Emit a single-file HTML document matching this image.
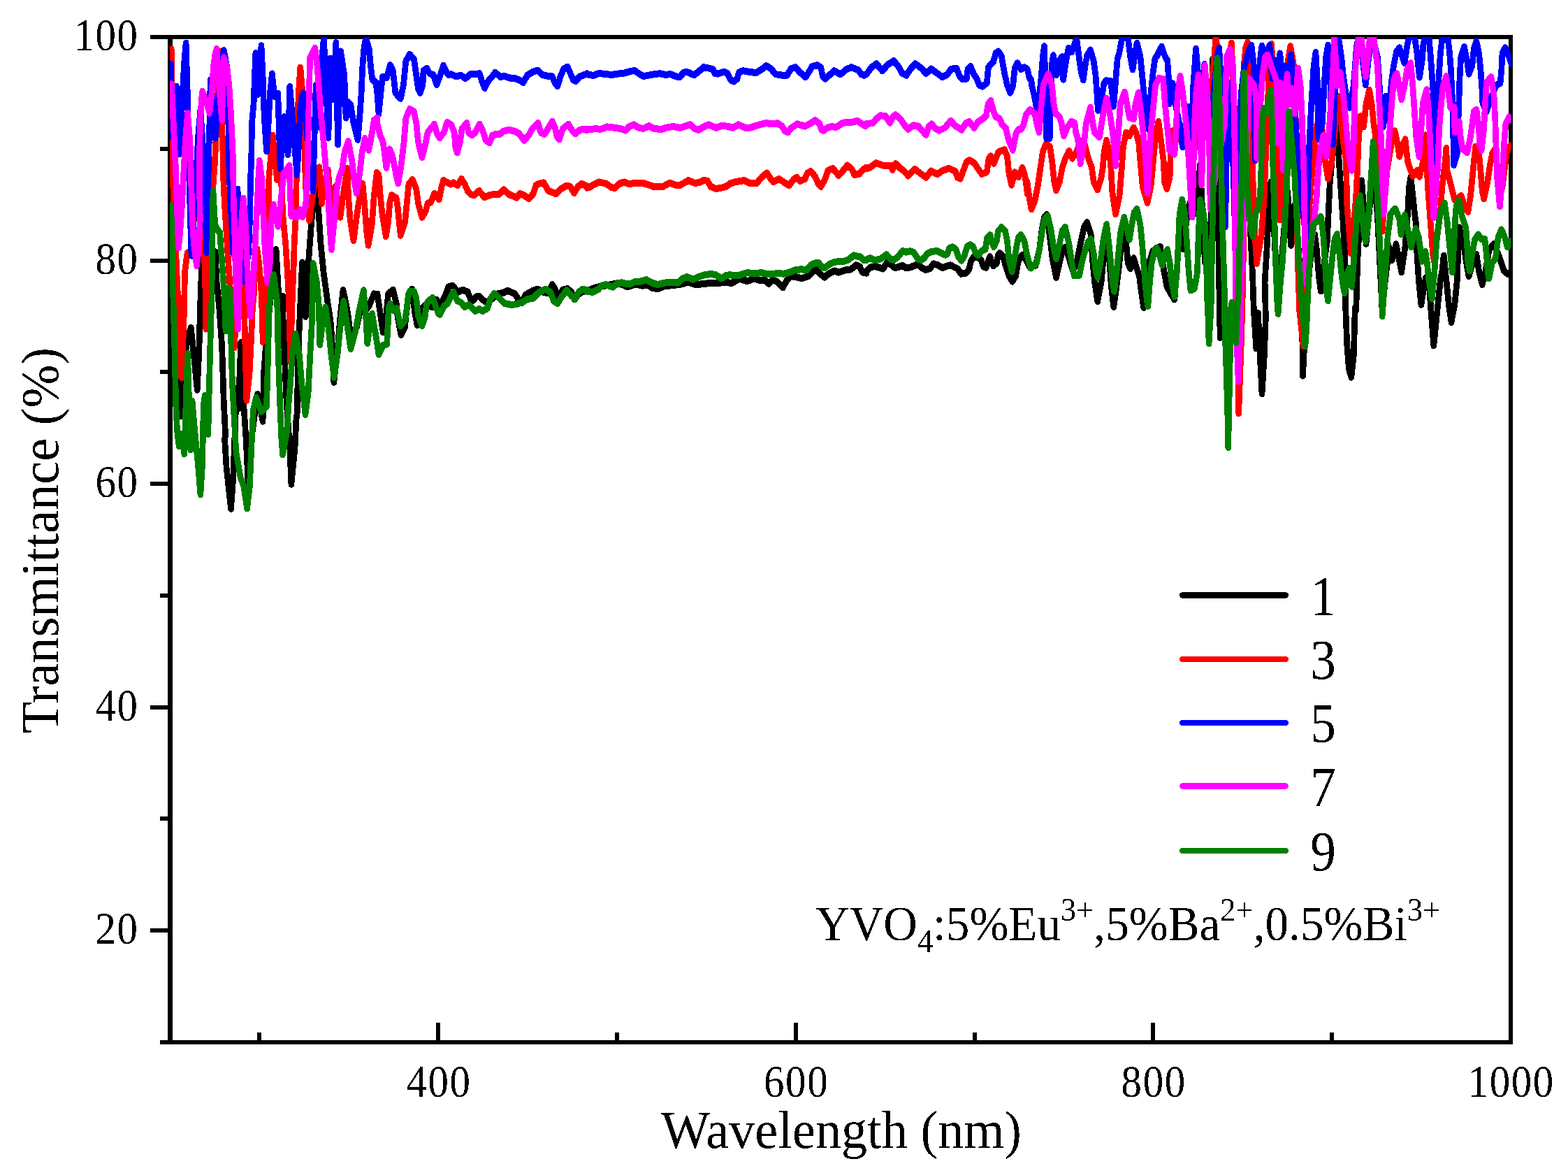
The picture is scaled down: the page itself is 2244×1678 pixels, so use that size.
<!DOCTYPE html>
<html lang="en">
<head>
<meta charset="utf-8">
<title>Transmittance spectra</title>
<style>
html,body{margin:0;padding:0;background:#fff;}
body{width:2244px;height:1678px;overflow:hidden;}
svg{display:block;}
text{font-family:"Liberation Serif","Times New Roman",serif;fill:#000;}
.ax{stroke:#000;stroke-width:6;fill:none;shape-rendering:crispEdges;}
.cv{fill:none;stroke-width:8.7;stroke-linejoin:round;stroke-linecap:round;shape-rendering:crispEdges;}
.lg{fill:none;stroke-width:8.6;stroke-linecap:round;shape-rendering:crispEdges;}
.tk{font-size:62px;}
.ti{font-size:74.3px;}
.lgt{font-size:77px;}
.an{font-size:67.2px;}
</style>
</head>
<body>
<svg width="2244" height="1678" viewBox="0 0 2244 1678">
<rect x="0" y="0" width="2244" height="1678" fill="#fff"/>
<g fill="#000" shape-rendering="crispEdges">
<rect x="240" y="50" width="1925" height="6"/>
<rect x="240" y="1488" width="1925" height="6"/>
<rect x="240" y="50" width="7" height="1444"/>
<rect x="2159" y="50" width="6" height="1444"/>
<rect x="215" y="50" width="25" height="6"/>
<rect x="229" y="210" width="11" height="6"/>
<rect x="215" y="370" width="25" height="6"/>
<rect x="229" y="529" width="11" height="6"/>
<rect x="215" y="689" width="25" height="6"/>
<rect x="229" y="849" width="11" height="6"/>
<rect x="215" y="1009" width="25" height="6"/>
<rect x="229" y="1168" width="11" height="6"/>
<rect x="215" y="1328" width="25" height="6"/>
<rect x="229" y="1488" width="11" height="6"/>
<rect x="368" y="1477" width="6" height="11"/>
<rect x="624" y="1463" width="6" height="25"/>
<rect x="880" y="1477" width="6" height="11"/>
<rect x="1136" y="1463" width="6" height="25"/>
<rect x="1392" y="1477" width="6" height="11"/>
<rect x="1647" y="1463" width="6" height="25"/>
<rect x="1903" y="1477" width="6" height="11"/>
</g>
<defs><clipPath id="c"><rect x="243" y="53" width="1919.6" height="1437"/></clipPath></defs>
<g clip-path="url(#c)"><g transform="scale(1 1.15)">
<polyline class="cv" stroke="#000000" points="244.8,291.5 252.2,418.1 255.6,477.3 258.4,517.7 263.1,465.4 267.2,424.0 273.3,407.6 277.4,441.8 282.2,484.9 284.9,435.8 286.5,382.6 288.3,338.8 291.0,291.5 294.4,315.2 299.9,350.7 303.9,327.0 308.0,313.4 310.1,350.7 313.7,382.6 317.6,429.9 320.3,500.9 322.7,542.3 321.6,546.1 324.1,581.6 330.5,632.9 333.9,593.4 335.0,563.9 337.3,512.7 338.2,483.2 341.4,508.0 343.0,465.4 344.8,425.9 348.6,500.9 352.2,548.2 355.0,599.3 359.7,546.1 368.6,490.3 376.1,524.0 377.4,465.4 381.5,418.1 388.3,362.5 395.1,310.4 398.5,362.5 400.5,380.2 404.6,368.4 405.3,404.4 407.3,441.8 410.1,500.9 414.8,557.9 416.9,602.3 422.0,557.9 423.9,522.4 425.3,512.7 426.4,453.6 428.4,406.3 432.5,326.5 435.2,374.3 437.3,393.8 441.4,327.0 445.4,279.7 449.5,244.2 452.9,227.6 456.3,267.8 459.0,303.3 463.1,338.8 468.6,374.3 472.9,398.0 474.7,418.1 477.8,475.5 483.5,429.9 486.9,394.4 491.0,360.8 495.8,380.2 498.5,394.4 502.6,424.0 510.7,406.3 516.2,382.6 523.0,386.2 528.4,380.2 535.2,365.5 540.0,367.2 540.0,365.6 544.1,389.2 548.2,413.1 552.2,395.1 554.3,377.4 555.6,365.6 562.4,360.6 567.2,377.4 569.3,395.1 574.0,416.7 579.5,407.0 581.5,389.2 584.9,365.6 589.7,359.7 593.7,389.2 597.1,404.6 601.9,395.1 605.3,382.1 610.1,378.3 618.9,382.1 625.0,372.7 628.4,382.1 632.5,376.6 638.0,365.6 642.0,356.7 647.5,355.3 652.9,360.8 655.6,363.2 662.4,360.6 669.3,363.2 673.3,371.5 677.4,373.6 681.5,369.1 685.6,368.5 692.4,373.9 696.5,376.2 704.6,371.5 712.8,365.3 719.6,364.4 726.4,361.4 733.2,364.2 736.6,365.3 741.4,371.5 746.8,376.8 752.2,366.8 755.0,365.3 763.1,361.4 769.9,359.7 776.7,363.2 783.5,364.6 786.9,359.7 790.3,354.1 794.4,359.7 797.1,371.5 805.3,360.8 812.1,359.1 817.6,363.2 822.3,372.4 828.4,365.6 833.9,362.6 840.0,361.8 840.0,362.5 847.2,359.3 854.5,357.3 863.5,355.7 876.2,353.8 884.3,352.3 890.6,354.1 897.9,356.7 906.9,354.1 912.3,353.8 919.6,355.4 926.8,354.6 934.0,358.2 941.3,359.3 950.3,356.2 959.3,355.1 970.2,354.1 977.4,353.0 984.7,350.7 993.7,353.5 999.1,353.8 1011.8,352.6 1024.4,351.9 1038.9,351.6 1048.0,351.9 1053.4,349.1 1058.8,346.8 1069.7,349.9 1078.7,346.3 1085.9,348.3 1095.0,349.1 1100.4,353.0 1105.8,348.3 1111.2,349.9 1120.3,357.8 1125.7,349.1 1131.1,343.6 1138.4,344.4 1147.4,346.4 1156.5,343.6 1163.7,337.3 1168.2,335.0 1174.5,341.3 1180.0,344.9 1187.2,339.7 1194.4,336.9 1199.9,338.9 1208.9,336.2 1217.9,335.0 1225.2,329.8 1230.6,331.8 1234.2,338.6 1240.0,339.7 1240.0,337.9 1245.4,332.6 1251.6,331.2 1257.7,332.6 1263.8,334.4 1269.3,326.7 1275.4,329.1 1280.8,333.2 1286.3,332.0 1291.7,330.3 1295.8,332.9 1302.6,332.6 1309.4,330.3 1313.5,328.5 1318.9,333.2 1325.0,335.6 1331.2,333.8 1335.9,328.1 1342.0,329.7 1348.8,333.2 1355.6,330.8 1360.4,329.9 1366.5,332.6 1370.6,334.4 1375.4,340.7 1382.9,339.5 1386.9,335.0 1389.7,324.3 1393.7,319.6 1399.2,319.6 1404.6,324.3 1407.3,331.4 1411.4,332.9 1414.8,323.2 1416.9,319.3 1419.6,327.9 1421.6,330.8 1426.4,327.3 1428.4,317.2 1430.5,314.9 1435.9,319.0 1438.6,329.1 1444.1,343.3 1448.8,350.1 1453.6,343.3 1456.3,329.1 1459.0,321.4 1463.1,317.5 1468.6,323.2 1474.0,332.6 1482.2,330.0 1487.7,309.3 1491.1,285.6 1494.5,270.2 1497.9,266.7 1502.0,291.5 1506.1,321.1 1511.5,345.3 1516.3,327.0 1520.3,312.8 1524.4,307.5 1529.9,321.1 1535.3,336.5 1540.7,327.0 1546.2,303.3 1551.6,282.0 1555.7,276.7 1561.2,291.5 1563.9,327.0 1566.6,350.7 1570.7,374.9 1576.1,350.7 1579.9,315.2 1582.9,285.6 1587.0,315.2 1590.4,356.6 1593.8,382.0 1597.9,356.6 1601.3,332.9 1606.1,291.5 1608.8,276.1 1611.8,303.3 1614.2,327.0 1617.6,334.1 1622.4,321.1 1626.5,332.9 1630.5,343.6 1633.3,362.5 1636.7,382.6 1641.4,350.7 1645.5,324.6 1649.6,312.8 1655.0,308.7 1660.5,306.9 1665.9,337.7 1670.0,356.6 1675.4,364.9 1680.9,372.6 1685.0,327.0 1687.7,285.6 1689.3,265.5 1693.1,309.8 1698.6,270.2 1702.9,252.5 1709.5,265.5 1714.9,232.4 1717.6,204.6 1721.0,267.8 1722.8,303.3 1724.7,327.0 1730.5,315.2 1733.7,261.9 1735.6,73.8 1739.1,117.6 1741.0,164.9 1742.8,232.4 1744.1,315.2 1745.1,374.3 1746.2,420.1 1746.1,420.1 1757.7,412.2 1769.3,406.3 1772.7,362.5 1774.3,303.3 1776.3,256.0 1778.1,208.7 1780.8,141.3 1783.5,87.4 1787.6,153.1 1789.7,291.5 1792.4,338.8 1794.4,386.2 1795.8,406.3 1797.8,433.5 1800.5,389.7 1803.3,444.1 1806.0,489.9 1809.4,441.8 1811.4,394.4 1810.1,350.7 1813.5,303.3 1816.2,244.2 1818.9,226.4 1823.0,279.7 1826.4,338.8 1829.1,380.2 1833.9,327.0 1839.3,267.8 1842.7,238.3 1847.5,305.1 1852.2,256.0 1855.6,279.7 1859.7,327.0 1863.1,374.3 1864.5,467.4 1869.3,386.2 1874.7,327.0 1881.5,291.5 1884.2,309.3 1887.6,344.8 1890.3,362.1 1895.1,327.0 1899.2,301.0 1903.3,226.4 1908.7,176.8 1913.5,156.0 1915.5,188.6 1916.9,208.7 1919.6,244.2 1922.3,279.7 1924.4,315.2 1925.7,350.7 1925.7,382.6 1927.8,429.9 1930.5,459.5 1933.9,469.2 1937.3,441.8 1939.3,382.6 1940.7,386.2 1942.7,327.0 1945.4,279.7 1948.8,224.7 1952.2,267.8 1955.0,303.3 1960.4,256.0 1965.9,214.6 1971.3,267.8 1975.4,338.8 1978.1,386.2 1982.2,350.7 1986.3,321.1 1987.2,305.8 1992.0,323.9 1998.0,303.8 2005.7,338.5 2011.1,305.8 2014.7,264.2 2016.5,232.9 2018.9,220.0 2021.9,243.4 2024.3,264.2 2026.7,279.8 2027.9,316.2 2030.3,347.5 2032.7,368.6 2033.9,379.0 2038.7,353.0 2040.5,345.4 2044.7,347.8 2048.2,389.5 2051.8,430.0 2056.6,389.5 2061.4,347.8 2063.8,337.1 2066.2,317.9 2069.8,347.8 2073.4,379.1 2077.0,400.8 2081.8,379.1 2085.4,347.8 2086.6,316.2 2088.4,282.9 2094.9,305.8 2098.5,326.6 2102.1,343.7 2109.3,321.4 2112.9,316.2 2116.5,337.1 2121.3,354.1 2126.1,337.1 2130.9,311.0 2138.0,303.3 2146.4,321.4 2152.4,337.1 2158.4,341.2 2163.2,337.1"/>
<polyline class="cv" stroke="#ff0000" points="245.2,61.4 246.1,176.8 248.2,244.2 255.2,382.6 257.0,429.9 259.7,469.6 261.8,429.9 263.4,388.5 264.5,338.8 267.9,315.2 272.7,311.6 279.5,256.0 285.6,188.6 289.7,256.0 292.4,315.2 294.4,374.3 294.8,409.2 296.1,356.6 298.5,315.2 303.9,244.2 307.6,200.4 310.1,153.1 312.8,93.9 315.1,64.4 316.5,105.8 317.6,153.1 318.9,188.6 320.0,230.0 321.6,256.0 325.0,303.3 327.8,338.8 330.1,368.4 335.2,432.3 340.7,362.5 344.8,327.0 348.8,362.5 350.9,429.9 352.9,498.0 357.0,465.4 359.7,418.1 361.4,382.6 363.1,368.4 365.4,327.0 367.9,309.8 370.6,327.0 374.0,362.5 375.5,398.0 376.1,425.2 378.8,394.4 382.2,338.8 384.2,267.8 384.9,220.5 387.6,194.5 390.3,168.5 393.7,200.4 396.5,223.5 401.9,215.8 405.3,272.6 408.7,303.3 411.4,338.8 413.5,374.3 415.5,449.5 418.2,374.3 419.9,338.8 421.2,303.3 423.0,272.6 423.9,238.3 425.0,188.6 425.9,153.1 427.2,117.6 429.8,84.0 433.2,117.6 435.2,153.1 436.2,200.4 438.0,238.3 442.7,274.4 447.5,244.2 452.2,219.3 457.0,208.1 460.4,253.1 464.5,226.4 469.3,211.1 473.7,258.4 479.5,232.4 486.9,270.2 491.7,238.3 497.1,209.4 498.5,244.2 501.2,273.8 506.0,299.2 510.7,267.8 514.8,244.2 518.9,228.3 521.9,256.0 524.4,285.6 527.1,305.1 532.2,279.7 535.2,244.2 539.3,214.6 542.0,217.4 544.1,241.1 546.8,264.7 552.2,293.9 555.6,276.5 557.7,252.9 560.4,242.6 567.2,246.4 569.3,258.8 571.3,276.5 573.3,292.8 579.5,276.5 582.2,252.9 584.9,229.2 590.3,223.4 595.8,235.1 598.5,252.9 603.9,270.3 609.4,262.3 612.1,252.9 616.2,251.7 618.9,247.0 621.6,240.8 628.4,247.9 632.5,230.4 634.6,224.3 640.7,227.4 644.8,229.2 648.8,227.2 655.0,230.6 660.4,222.5 665.2,229.2 669.3,237.5 674.0,241.9 678.8,242.8 685.6,237.3 693.1,245.4 700.5,242.8 708.7,241.4 714.1,241.9 721.0,236.1 729.1,242.2 733.2,243.4 739.3,246.0 744.1,240.8 750.9,243.4 757.0,247.2 763.1,241.1 767.2,230.4 771.3,228.4 778.1,227.2 784.9,237.5 789.0,238.7 795.8,241.1 802.6,235.1 810.7,231.0 816.2,232.2 821.6,240.1 827.1,232.2 832.5,228.4 840.0,231.6 840.0,233.6 843.6,232.8 850.9,229.2 857.2,226.5 867.2,228.4 874.5,232.8 879.9,234.1 887.2,228.1 893.5,226.5 900.8,229.0 908.0,227.6 919.8,227.7 928.9,230.0 936.1,232.5 948.8,232.2 954.3,229.2 958.8,227.6 967.0,230.1 972.4,230.6 979.7,227.3 985.1,224.4 994.2,227.7 1001.5,227.0 1006.9,224.4 1012.3,224.9 1016.9,232.0 1025.0,234.8 1034.1,233.3 1039.5,232.0 1045.0,228.1 1054.1,226.0 1064.9,224.4 1074.0,228.1 1083.1,227.7 1090.3,220.2 1097.6,215.1 1103.0,222.5 1106.7,226.2 1114.8,222.5 1123.0,227.3 1129.3,230.6 1135.7,223.3 1140.2,220.6 1144.8,225.4 1152.0,222.5 1155.6,215.4 1160.2,213.1 1166.5,219.4 1171.1,228.8 1174.7,232.2 1180.1,224.1 1184.7,212.3 1191.9,209.4 1200.1,218.3 1207.3,211.5 1212.8,205.7 1219.1,210.7 1222.8,217.5 1230.0,216.2 1235.5,210.7 1240.0,208.3 1240.0,209.9 1245.4,208.3 1253.6,202.8 1263.6,205.7 1274.5,206.0 1277.2,211.2 1281.7,203.6 1289.0,209.9 1292.6,211.8 1299.9,218.6 1308.9,210.2 1318.0,216.2 1325.3,220.6 1332.5,212.6 1341.6,216.7 1348.8,212.3 1357.9,209.4 1367.0,213.1 1370.6,221.0 1374.2,222.2 1379.7,209.9 1383.3,201.2 1387.8,199.2 1394.2,202.8 1399.6,209.9 1405.1,216.4 1412.3,213.9 1415.1,197.3 1417.8,194.1 1422.3,203.3 1428.7,189.4 1432.3,187.8 1437.7,186.3 1441.4,194.1 1444.1,216.2 1447.7,230.1 1452.2,214.2 1457.7,220.2 1463.1,208.7 1466.8,217.8 1470.4,241.5 1470.0,226.4 1472.7,244.2 1476.1,260.4 1480.9,250.1 1485.0,232.4 1489.0,208.7 1492.4,188.6 1497.2,178.5 1502.7,182.7 1505.6,200.4 1508.8,226.4 1511.5,236.7 1516.3,226.4 1520.3,208.7 1524.4,198.0 1529.9,187.5 1534.6,197.1 1540.7,188.6 1546.2,175.6 1551.6,176.8 1557.1,195.7 1562.5,208.7 1565.2,226.4 1570.7,236.1 1576.1,220.5 1578.2,208.7 1580.2,188.6 1583.6,174.5 1587.3,188.6 1589.7,206.3 1591.8,238.3 1596.5,266.3 1602.0,244.2 1605.4,208.7 1607.4,182.7 1611.5,165.0 1616.3,169.1 1622.4,158.8 1626.5,166.1 1629.9,179.1 1631.9,200.4 1635.3,232.4 1642.1,252.1 1646.9,232.4 1649.6,208.7 1653.0,176.8 1657.8,151.1 1661.8,176.8 1665.2,200.4 1666.6,226.4 1670.0,235.0 1674.1,220.5 1675.4,188.6 1677.5,162.9 1682.2,176.8 1687.7,153.1 1694.5,176.8 1701.3,182.7 1706.7,206.3 1713.5,153.1 1719.7,108.1 1725.8,117.6 1732.6,117.6 1736.7,82.1 1740.0,46.6 1746.1,82.1 1751.6,117.6 1757.0,82.1 1762.4,53.5 1767.2,153.1 1769.9,303.3 1772.0,441.8 1772.7,514.2 1776.7,418.1 1778.8,350.7 1779.5,303.3 1779.7,208.7 1780.1,82.1 1782.9,58.4 1785.6,52.6 1789.0,105.8 1791.7,176.8 1794.4,267.8 1798.5,327.8 1805.3,291.5 1809.4,244.2 1810.7,208.7 1813.5,153.1 1816.2,82.1 1819.6,54.7 1823.0,105.8 1827.1,188.6 1831.2,273.4 1835.2,208.7 1838.0,153.1 1842.0,82.1 1846.8,57.6 1852.9,88.0 1854.3,153.1 1855.6,200.4 1857.0,315.2 1859.7,386.2 1865.2,430.8 1866.8,362.5 1869.9,303.3 1874.0,256.0 1878.1,208.7 1880.8,188.6 1883.5,159.0 1890.3,142.2 1893.7,176.8 1896.5,200.4 1900.5,222.5 1906.0,200.4 1910.1,164.9 1914.1,129.4 1915.5,120.0 1919.6,153.1 1922.3,176.8 1926.4,200.4 1927.8,256.0 1933.2,314.8 1937.3,279.7 1940.7,244.2 1942.7,208.7 1944.1,176.8 1946.8,144.6 1951.6,157.8 1955.0,129.4 1959.7,111.8 1963.1,129.4 1965.9,153.1 1968.6,170.8 1971.3,200.4 1978.1,287.6 1984.9,212.2 1991.7,176.8 1995.8,163.7 1996.2,162.9 2000.4,180.5 2002.7,194.5 2007.5,180.5 2011.1,173.4 2014.7,201.7 2021.9,219.3 2027.9,212.1 2031.5,219.8 2036.3,201.7 2037.5,190.9 2039.9,168.1 2041.1,191.3 2043.5,232.9 2047.0,274.6 2050.6,316.2 2052.4,325.0 2056.6,295.4 2061.4,264.2 2063.8,232.9 2067.4,206.9 2069.2,191.3 2069.8,184.3 2071.0,212.1 2075.8,227.7 2081.8,248.6 2087.8,245.4 2091.3,243.4 2094.9,253.8 2100.9,263.6 2104.5,243.4 2106.9,222.5 2109.3,201.7 2111.7,182.2 2116.5,190.9 2118.9,212.1 2121.3,238.2 2123.7,247.4 2128.5,227.7 2132.1,206.9 2135.6,191.3 2139.2,185.7 2145.2,222.5 2150.0,232.9 2156.0,190.9 2159.6,182.6 2163.2,180.5"/>
<polyline class="cv" stroke="#0000ff" points="244.8,79.7 246.1,170.8 252.2,107.5 257.0,191.5 260.4,129.4 263.8,76.2 266.1,53.5 268.0,105.8 269.3,153.1 270.7,212.2 272.1,261.9 274.0,318.1 276.7,279.7 278.8,238.3 281.1,212.2 283.5,170.8 286.9,136.5 291.4,194.5 294.1,261.9 295.8,314.0 297.1,261.9 298.5,200.4 299.9,153.1 301.2,99.4 308.0,172.0 313.5,117.6 318.2,72.6 320.3,62.7 325.0,84.5 326.4,129.4 327.8,206.3 329.5,244.2 333.9,315.2 337.3,267.8 340.0,235.3 343.4,291.5 348.8,349.5 355.6,315.2 357.7,267.8 358.6,220.5 359.7,200.4 360.5,153.1 363.1,128.2 364.5,93.9 365.9,65.8 369.0,117.6 374.0,56.8 376.1,93.9 377.4,129.4 378.8,153.1 381.5,188.0 384.2,153.1 386.3,117.6 389.4,91.7 392.7,120.0 397.8,116.4 399.5,164.9 401.2,209.9 403.9,170.8 406.7,145.4 412.1,192.1 414.8,107.7 418.5,147.2 422.3,188.6 425.0,217.6 427.8,176.8 429.4,141.3 431.8,121.1 434.6,115.9 438.0,153.1 442.7,200.4 447.9,237.7 450.2,164.9 452.2,105.8 457.7,158.4 461.1,70.3 463.4,46.6 469.9,171.4 472.7,72.8 476.7,123.5 480.8,53.2 483.5,179.7 487.6,63.9 492.8,93.9 495.1,146.6 498.5,127.1 501.9,130.6 506.0,153.1 512.1,173.8 514.6,147.2 517.0,117.6 518.9,82.1 521.1,58.4 523.7,47.8 528.2,60.8 530.5,82.1 532.8,98.7 538.0,102.8 540.0,117.6 542.0,141.3 545.4,111.7 547.5,95.7 553.6,96.3 558.4,80.9 562.4,88.0 565.9,115.2 569.3,119.4 573.3,122.6 577.4,105.8 580.8,76.2 586.3,67.7 592.4,73.2 595.8,93.9 598.5,110.5 601.2,115.5 605.0,105.8 606.0,88.0 610.7,85.1 615.1,91.6 620.3,93.3 625.0,105.4 629.8,93.9 634.6,81.5 640.0,91.6 641.4,92.8 646.1,92.5 652.2,95.1 659.7,93.7 665.9,97.5 674.0,91.9 680.1,92.5 686.3,91.3 689.7,101.0 693.7,109.6 698.5,101.0 703.3,96.3 708.7,90.2 716.2,95.7 721.0,94.5 730.5,97.1 735.9,97.2 742.7,99.3 748.8,102.5 755.0,93.3 763.1,89.2 769.9,87.4 775.4,92.8 783.5,94.5 790.3,95.1 794.4,103.4 797.8,107.2 802.6,93.9 806.7,85.7 812.1,83.1 817.6,93.9 820.3,99.3 823.7,101.0 829.8,95.1 833.9,93.9 840.0,91.6 840.0,92.4 849.1,94.0 857.2,91.1 867.2,92.4 876.3,92.9 883.5,91.9 894.4,90.8 899.9,89.2 908.0,87.7 914.4,91.6 920.7,94.9 928.9,93.5 936.1,92.4 944.3,91.5 951.6,92.9 959.7,92.4 967.0,94.8 972.4,96.0 978.8,90.0 983.3,89.6 993.3,93.3 999.6,89.2 1006.9,83.7 1014.1,84.8 1020.5,86.4 1023.2,91.6 1027.8,91.8 1035.9,89.2 1041.4,91.6 1045.9,99.5 1050.4,101.4 1055.0,97.9 1057.7,90.0 1063.1,88.0 1074.0,89.6 1082.2,90.5 1090.3,86.1 1096.7,81.8 1103.0,85.3 1110.3,92.4 1120.3,93.7 1126.6,93.5 1132.1,85.3 1138.4,83.7 1144.8,90.0 1152.9,96.0 1158.4,88.5 1162.0,82.9 1169.3,81.0 1174.7,83.7 1177.4,94.8 1181.0,97.9 1187.4,93.2 1193.7,88.0 1202.8,92.6 1210.1,86.9 1218.2,83.7 1228.2,87.2 1232.7,92.4 1236.4,93.7 1240.0,92.4 1240.0,92.4 1247.3,83.7 1254.5,79.3 1262.7,88.1 1270.8,80.3 1279.0,75.8 1285.4,82.1 1290.8,90.8 1297.1,93.7 1303.5,85.3 1309.8,79.3 1318.0,84.5 1325.3,91.3 1332.5,85.6 1340.7,90.8 1348.8,96.0 1356.1,92.4 1360.6,86.1 1368.8,84.8 1373.3,94.8 1377.9,98.7 1383.3,97.9 1385.1,86.1 1388.8,82.5 1394.2,93.2 1397.8,97.9 1401.5,105.8 1406.0,107.5 1412.3,103.4 1414.5,83.7 1416.9,80.9 1421.4,77.4 1425.0,66.4 1428.7,64.0 1433.2,69.5 1437.7,91.6 1441.4,105.8 1445.9,115.3 1449.5,107.4 1452.2,85.3 1455.9,78.5 1461.3,86.1 1465.9,83.7 1470.4,86.1 1473.1,97.1 1475.8,99.5 1476.8,107.0 1480.2,118.8 1484.3,138.9 1487.7,117.6 1490.4,93.9 1492.4,70.3 1494.5,57.6 1496.1,105.8 1497.6,172.0 1499.9,135.3 1502.2,172.0 1504.0,117.6 1505.1,82.1 1507.4,68.9 1512.2,93.0 1516.9,73.8 1520.3,70.6 1521.7,98.9 1524.4,82.1 1529.2,59.7 1533.9,64.4 1540.7,47.6 1544.1,70.3 1546.9,88.0 1550.3,99.5 1553.0,82.1 1555.7,69.1 1560.5,62.1 1565.2,76.2 1568.0,93.9 1570.0,117.6 1571.4,137.4 1577.5,117.6 1579.9,103.4 1582.9,100.2 1589.7,101.0 1593.8,132.0 1597.2,93.9 1599.3,72.6 1601.3,67.9 1606.1,46.6 1614.2,46.6 1617.6,70.3 1621.0,86.5 1623.7,70.3 1627.1,53.5 1631.9,70.3 1634.6,93.9 1637.3,117.6 1640.1,131.8 1644.1,161.0 1646.9,117.6 1649.6,93.9 1653.0,72.6 1655.7,69.7 1662.5,57.9 1667.3,70.3 1670.7,75.0 1672.7,99.9 1673.4,129.1 1678.2,103.8 1682.2,129.4 1687.7,153.1 1692.4,182.9 1698.6,141.3 1701.3,132.7 1705.4,170.8 1707.8,105.8 1711.5,60.6 1714.9,93.9 1719.0,141.3 1723.7,80.1 1727.1,129.4 1731.2,176.8 1736.7,117.6 1742.1,70.3 1744.8,60.0 1748.2,117.6 1750.9,188.6 1752.9,244.2 1753.6,282.0 1755.0,208.7 1756.3,153.1 1757.7,102.8 1761.8,153.1 1765.2,212.2 1767.2,279.7 1769.3,327.0 1772.0,267.8 1773.3,208.7 1774.7,153.1 1776.1,117.6 1780.8,82.1 1786.9,64.4 1791.0,56.4 1794.4,82.1 1795.1,141.3 1796.5,199.5 1799.9,153.1 1801.9,105.8 1803.9,70.3 1806.0,57.0 1811.4,69.1 1816.9,56.4 1820.5,97.5 1824.4,75.0 1827.8,98.7 1831.8,66.5 1835.2,98.7 1838.6,82.1 1843.0,102.2 1847.5,68.3 1850.2,93.9 1852.9,117.6 1854.3,155.5 1862.4,244.2 1869.3,299.4 1871.3,244.2 1872.7,208.7 1874.0,176.8 1876.7,129.4 1880.1,82.1 1882.9,65.0 1885.6,105.8 1886.1,153.1 1887.6,173.2 1892.4,153.1 1895.1,105.8 1897.8,70.3 1900.5,56.2 1903.9,105.8 1907.3,179.4 1910.7,105.8 1913.5,64.4 1915.5,46.6 1919.6,70.3 1922.3,93.9 1926.4,117.6 1931.8,133.8 1937.3,105.8 1941.4,58.4 1944.1,46.6 1949.5,70.3 1954.3,105.4 1959.0,70.3 1964.5,46.6 1971.3,70.3 1973.3,93.9 1976.7,141.3 1979.5,157.5 1982.9,119.7 1985.6,149.5 1989.0,123.5 1991.7,99.9 1994.4,82.1 1998.5,64.4 2002.7,59.4 2009.9,78.5 2014.1,55.6 2017.1,45.2 2024.3,45.2 2027.9,66.0 2030.3,86.8 2031.5,96.1 2035.1,76.4 2036.9,55.6 2039.3,45.2 2044.7,45.2 2047.0,66.0 2048.8,86.8 2050.6,107.7 2051.8,128.5 2052.8,149.3 2053.4,170.1 2053.6,209.4 2056.6,170.1 2057.8,128.5 2059.0,97.2 2061.4,66.0 2064.4,45.2 2071.6,45.2 2074.6,66.0 2076.4,86.8 2077.6,107.7 2078.8,128.5 2079.6,159.7 2080.6,205.3 2085.4,190.9 2086.6,159.7 2087.8,128.5 2089.0,97.2 2090.7,71.2 2095.5,58.3 2099.7,76.4 2102.1,91.9 2106.9,81.6 2109.3,60.8 2112.9,51.5 2116.5,66.0 2118.9,86.8 2120.7,107.7 2121.9,128.5 2127.3,138.9 2135.6,118.1 2141.6,105.6 2147.0,103.5 2148.8,86.8 2150.0,66.0 2154.2,59.4 2158.4,68.1 2163.2,79.6"/>
<polyline class="cv" stroke="#ff00ff" points="245.4,104.6 248.2,153.1 251.6,212.2 252.5,238.3 253.9,273.8 255.6,308.1 258.0,285.6 260.4,256.0 262.4,220.5 263.4,206.3 265.3,174.4 268.6,140.8 272.0,176.8 273.3,212.2 273.7,226.4 275.0,267.8 277.4,303.3 281.5,330.6 284.6,309.3 286.3,273.8 285.7,238.3 285.4,200.4 286.5,153.1 288.3,124.7 289.7,113.6 294.4,124.7 299.9,140.7 302.9,117.6 305.6,82.1 308.0,66.7 310.1,60.9 313.5,105.8 317.6,149.5 319.2,105.8 320.3,71.5 325.0,84.5 327.8,105.8 330.1,135.3 331.8,164.9 333.6,200.4 334.1,244.2 335.5,279.7 336.9,327.0 338.6,374.3 340.7,409.2 342.7,338.8 344.1,291.5 348.2,246.8 351.6,279.7 353.6,327.0 355.6,362.5 358.4,393.3 362.4,350.7 365.2,303.3 367.9,256.0 369.9,220.5 371.3,199.9 374.4,220.5 376.3,256.0 378.8,303.3 381.2,332.9 382.9,351.8 386.3,327.0 387.6,279.7 391.3,254.4 397.8,281.5 402.6,244.2 406.0,215.8 414.1,205.9 415.5,244.2 416.9,269.0 421.0,264.3 425.0,270.2 429.4,260.8 433.2,269.6 437.3,256.0 439.7,232.4 440.0,212.2 441.4,153.1 442.7,105.8 443.5,71.7 450.9,59.7 453.9,82.1 456.6,111.7 459.3,141.3 463.1,176.8 466.1,206.3 469.7,238.3 471.3,273.8 474.3,310.4 478.4,273.8 481.5,238.3 484.9,221.7 489.7,209.9 493.3,188.6 498.5,175.7 503.9,200.4 506.9,224.1 510.1,240.0 514.8,215.8 518.2,188.6 522.3,172.1 527.8,186.8 532.5,164.9 535.2,149.5 540.0,146.6 540.0,154.3 544.1,168.5 548.2,176.8 550.9,194.5 552.9,208.9 555.6,194.5 557.7,185.6 561.8,194.5 564.5,206.3 567.2,219.3 569.9,228.2 574.0,206.3 578.1,176.8 580.8,147.2 586.3,135.6 592.4,138.9 595.8,153.1 598.5,176.8 603.9,195.9 608.0,182.7 612.1,164.9 615.5,160.8 621.6,154.6 625.0,164.9 629.1,171.7 635.2,164.9 640.0,151.9 646.1,155.5 650.2,164.9 651.8,182.7 654.3,190.0 658.4,176.8 661.1,160.2 667.9,152.9 670.6,164.9 675.4,168.1 680.1,164.9 686.3,154.6 691.0,162.6 695.1,174.4 700.5,177.6 704.6,168.5 708.7,167.1 715.5,166.7 721.0,163.1 728.4,161.6 735.9,163.1 742.7,166.1 750.2,174.6 756.3,168.5 761.8,160.2 769.9,152.9 774.0,164.9 779.5,166.9 784.9,159.0 790.3,151.0 794.4,159.0 797.1,169.7 800.5,173.4 805.3,160.2 813.5,154.6 818.9,162.6 823.7,166.3 829.8,161.6 835.2,160.8 840.0,162.0 840.0,161.0 852.7,160.2 860.0,160.7 869.0,157.7 879.9,159.0 889.0,160.2 895.3,162.3 899.9,157.9 907.1,155.0 914.4,159.1 920.7,159.9 928.9,156.6 936.1,160.2 947.0,160.7 956.1,158.2 964.3,157.4 973.3,159.1 981.5,156.6 987.8,155.0 994.2,160.2 999.6,161.5 1006.9,157.9 1014.1,155.0 1025.0,159.1 1032.3,156.6 1041.4,157.1 1048.6,159.1 1056.8,155.0 1066.8,159.1 1074.0,158.7 1081.3,156.6 1090.3,154.4 1096.7,153.1 1103.0,153.9 1113.0,153.4 1119.4,157.1 1123.0,162.6 1127.5,164.5 1132.1,159.4 1141.1,154.2 1152.0,157.2 1159.3,153.9 1166.5,149.7 1172.9,153.9 1175.6,161.0 1178.3,162.6 1184.7,158.7 1191.0,157.4 1196.5,158.3 1206.4,152.7 1217.3,152.3 1227.3,150.4 1234.6,154.7 1238.2,156.8 1240.0,155.5 1240.0,153.9 1249.1,153.1 1254.5,147.6 1260.0,143.7 1267.2,144.5 1273.6,152.8 1278.1,145.2 1281.7,142.9 1289.0,148.7 1294.4,155.5 1299.9,160.7 1307.1,155.8 1314.4,157.1 1319.8,162.6 1325.3,167.8 1328.9,157.9 1333.4,154.2 1338.9,160.2 1344.3,162.3 1352.5,158.7 1360.6,150.3 1367.0,156.3 1376.1,161.5 1382.4,153.1 1386.9,151.1 1394.2,159.1 1399.6,151.6 1406.9,147.6 1411.4,143.7 1414.1,129.5 1417.8,125.1 1421.4,137.4 1425.0,145.2 1430.5,147.6 1434.1,154.7 1439.5,159.4 1443.2,173.6 1449.5,186.7 1454.1,165.7 1457.7,161.0 1461.3,161.0 1464.9,154.7 1468.6,142.1 1474.0,136.6 1474.1,136.3 1480.9,141.3 1483.6,153.1 1487.0,164.6 1490.4,129.4 1493.1,105.8 1499.9,91.9 1505.4,105.8 1508.1,129.4 1510.8,141.3 1516.3,145.2 1519.0,153.1 1522.4,169.1 1527.1,159.0 1533.3,151.1 1538.0,153.1 1539.7,164.9 1542.1,170.8 1544.8,188.6 1546.2,203.6 1551.6,176.8 1554.4,153.1 1560.5,133.6 1563.9,153.1 1566.6,165.2 1573.4,170.5 1578.8,141.3 1583.6,122.3 1588.4,141.3 1592.4,164.9 1595.2,188.6 1596.5,206.0 1600.6,164.9 1603.3,129.4 1609.5,114.4 1612.9,129.4 1616.3,146.2 1622.4,148.0 1625.1,129.4 1629.2,115.2 1633.3,141.3 1636.0,164.9 1638.7,188.6 1642.1,240.3 1646.9,164.9 1651.0,129.4 1653.7,105.8 1658.4,97.2 1664.6,98.4 1667.3,129.4 1670.0,153.1 1672.7,176.8 1673.4,186.5 1680.9,191.8 1683.6,153.1 1685.2,117.6 1689.0,94.5 1693.1,117.6 1695.9,141.3 1698.6,164.9 1701.3,200.4 1706.1,269.9 1709.5,153.1 1711.5,117.6 1714.9,93.3 1717.6,141.3 1719.8,230.0 1722.0,141.3 1724.4,81.3 1728.5,129.4 1730.5,176.8 1731.9,244.2 1732.6,260.4 1736.7,232.4 1752.9,153.1 1754.3,105.8 1755.6,70.3 1760.4,61.2 1764.5,82.1 1765.6,117.6 1766.5,153.1 1767.2,188.6 1767.5,232.4 1767.8,303.3 1768.3,368.4 1769.7,418.1 1772.2,474.5 1774.7,418.1 1776.2,362.5 1779.5,279.7 1783.5,208.7 1785.6,153.1 1787.6,97.8 1794.4,105.8 1797.8,122.9 1798.2,153.1 1798.5,196.5 1801.2,164.9 1803.9,129.4 1806.7,93.9 1810.7,70.3 1814.1,68.3 1821.6,88.0 1827.1,101.0 1829.1,177.9 1832.5,103.2 1836.3,211.1 1842.0,92.5 1845.4,129.4 1848.8,110.5 1852.9,141.3 1857.7,84.8 1861.1,105.8 1863.1,141.3 1864.5,176.8 1865.9,212.2 1868.6,352.7 1874.7,315.2 1880.1,279.7 1884.2,244.2 1886.9,208.7 1889.0,188.6 1893.7,168.8 1898.5,194.1 1901.9,164.9 1904.6,129.4 1907.3,93.9 1908.7,70.3 1909.4,46.6 1911.7,76.2 1913.5,106.6 1918.2,90.4 1922.3,117.6 1925.0,141.3 1928.4,176.8 1931.8,200.4 1934.6,211.9 1937.3,176.8 1938.6,129.4 1940.0,82.1 1944.1,46.6 1948.2,46.6 1950.9,70.3 1954.3,95.4 1957.7,70.3 1960.4,46.6 1965.9,46.6 1971.3,82.1 1973.3,117.6 1975.4,153.1 1977.4,188.6 1980.1,266.3 1987.6,176.8 1991.7,129.4 1994.4,99.9 1997.1,92.8 1999.2,91.6 2005.7,123.7 2009.9,107.7 2013.5,86.8 2018.9,78.6 2021.9,107.7 2024.3,138.9 2026.7,170.1 2030.9,195.0 2033.9,159.7 2036.3,128.5 2041.7,111.4 2044.7,138.9 2046.4,170.1 2048.2,201.4 2050.0,232.9 2051.8,270.8 2056.0,222.5 2057.8,207.0 2059.6,159.7 2062.6,128.5 2065.0,107.7 2069.8,95.0 2073.4,118.1 2075.8,133.7 2081.2,133.3 2082.0,164.8 2085.4,157.6 2088.4,151.5 2090.1,170.1 2093.1,185.1 2099.7,189.8 2104.5,170.1 2106.9,154.5 2109.3,138.9 2112.9,136.4 2116.5,159.7 2117.7,180.5 2120.1,187.2 2123.7,159.7 2125.5,128.5 2127.3,102.5 2133.9,95.8 2138.0,118.1 2139.8,149.3 2141.0,180.5 2142.8,222.5 2146.4,256.8 2150.0,222.5 2152.4,180.5 2154.8,154.5 2159.6,145.8 2163.2,149.3"/>
<polyline class="cv" stroke="#008000" points="244.8,256.0 248.2,382.6 250.2,441.8 251.6,500.9 253.6,536.4 256.1,554.7 259.7,540.0 263.8,564.8 265.3,524.6 266.9,477.3 268.6,440.1 270.2,489.1 272.7,559.5 274.0,524.6 275.1,499.1 278.8,536.4 283.8,581.6 286.9,615.2 289.3,581.6 290.3,545.9 291.4,503.3 293.3,492.0 296.1,504.5 297.8,540.0 299.2,489.1 300.5,441.8 302.0,394.4 302.9,374.3 303.4,327.0 304.2,279.7 305.0,238.0 307.8,279.7 311.0,285.6 314.6,289.1 317.8,327.0 320.3,356.6 321.9,386.2 323.0,411.6 325.7,374.3 328.2,358.9 330.1,386.2 330.9,429.9 332.5,477.3 334.7,512.7 336.9,548.2 338.2,563.9 344.1,593.4 348.8,605.3 353.6,632.4 357.3,605.3 360.4,546.1 362.4,510.6 366.5,494.5 374.0,512.0 381.5,505.6 382.9,465.4 384.2,418.1 385.3,382.6 387.6,362.5 391.7,341.9 396.2,372.0 397.8,398.0 397.6,418.1 399.2,465.4 401.2,512.7 403.0,548.2 404.6,565.5 410.7,536.4 413.1,500.9 415.5,477.3 418.2,441.8 423.0,415.3 428.4,441.8 431.8,477.3 437.0,515.7 441.1,489.1 443.8,441.8 446.1,406.3 448.2,327.7 453.3,350.7 456.3,380.2 457.7,428.7 463.1,394.4 465.9,382.1 469.9,406.3 474.0,441.8 478.1,469.6 482.9,441.8 486.3,412.2 491.7,375.0 497.1,406.3 501.9,434.1 508.7,412.2 513.5,388.5 520.3,361.1 523.7,394.4 525.7,427.0 532.5,390.4 538.0,418.1 542.0,440.9 548.2,429.5 553.6,428.3 555.0,407.0 556.3,383.3 558.4,378.0 563.1,386.3 567.9,383.3 570.6,395.1 573.3,405.4 579.5,398.7 582.2,383.3 584.6,365.6 586.3,362.6 592.4,362.6 595.8,371.5 598.5,392.8 603.9,405.4 608.0,395.1 610.7,377.4 614.1,374.1 618.9,370.4 623.7,381.0 627.1,389.8 629.8,391.2 635.2,381.0 640.7,377.4 645.4,369.1 648.8,363.2 654.3,373.9 659.7,376.2 665.2,381.8 670.6,379.2 676.1,383.3 680.1,387.1 685.6,384.3 691.0,386.9 697.8,383.3 701.9,371.5 707.3,365.0 715.5,371.5 722.3,377.4 731.8,379.2 740.0,378.2 749.5,375.0 755.0,372.1 763.1,370.9 771.3,363.8 780.1,359.7 787.6,363.2 792.4,374.4 797.8,377.6 803.9,369.1 810.7,361.0 817.6,367.9 823.0,372.1 828.4,363.2 833.9,359.7 840.0,360.8 840.0,362.5 848.1,363.4 856.3,360.1 861.7,355.1 867.1,354.1 877.1,357.1 883.4,352.6 889.7,351.5 896.1,353.0 901.5,353.5 908.7,350.4 915.9,350.2 925.0,347.9 932.2,351.5 941.3,354.1 950.3,351.9 959.3,351.0 970.2,351.9 976.5,346.8 982.9,344.4 991.9,347.5 999.1,344.7 1008.2,342.0 1017.2,340.8 1024.4,342.0 1032.6,346.4 1038.9,342.8 1043.4,342.0 1057.0,342.8 1064.2,340.5 1069.7,339.2 1078.7,340.5 1089.5,339.2 1100.4,341.3 1111.2,340.3 1122.1,340.5 1129.3,338.9 1138.4,335.7 1147.4,335.0 1154.6,336.2 1160.1,329.9 1167.3,327.1 1171.8,327.1 1176.3,332.1 1180.0,333.4 1187.2,328.7 1194.4,325.8 1207.1,325.1 1214.3,323.2 1221.6,317.7 1231.5,319.6 1236.0,323.6 1240.0,323.6 1240.0,322.8 1245.4,321.0 1251.6,323.8 1260.4,322.0 1268.6,316.7 1274.0,322.0 1278.8,323.5 1284.9,319.6 1291.7,312.2 1297.1,313.7 1302.6,312.2 1308.0,314.3 1313.5,322.0 1318.2,323.5 1323.0,320.8 1327.1,315.5 1332.5,313.1 1340.7,312.2 1347.5,314.9 1352.9,317.2 1355.6,316.1 1358.4,309.0 1363.1,307.2 1367.9,310.1 1372.0,320.2 1376.1,324.1 1380.1,318.4 1384.2,306.6 1388.3,304.5 1392.4,306.6 1396.5,314.9 1399.9,317.6 1404.6,312.5 1410.1,310.1 1412.8,295.9 1416.9,292.3 1419.6,300.7 1422.3,307.0 1426.4,299.5 1428.4,287.7 1433.2,282.8 1438.6,287.1 1441.4,299.5 1444.1,323.2 1448.2,337.9 1451.6,323.2 1455.0,305.4 1457.7,294.8 1461.1,292.3 1465.9,299.5 1469.3,314.9 1472.7,326.7 1475.4,333.5 1483.6,327.0 1487.7,309.3 1491.8,285.6 1495.2,272.6 1499.3,268.2 1504.0,285.6 1508.1,309.3 1511.5,321.7 1516.3,303.3 1520.3,286.8 1524.4,282.6 1529.9,303.3 1533.9,327.0 1537.3,343.0 1544.8,342.4 1548.2,327.0 1551.6,315.2 1557.1,301.0 1561.2,297.4 1565.2,315.2 1568.0,336.5 1570.7,345.3 1574.8,327.0 1578.8,298.6 1583.6,279.1 1587.0,303.3 1589.7,327.0 1592.4,350.7 1594.5,362.5 1597.9,338.8 1600.6,315.2 1604.0,286.8 1608.8,270.2 1612.9,285.6 1616.3,298.0 1619.7,279.7 1623.1,264.3 1627.1,259.9 1631.9,279.7 1634.6,303.3 1636.7,327.0 1638.7,350.7 1641.4,374.3 1642.8,380.8 1645.5,350.7 1648.2,327.0 1652.3,311.6 1655.7,308.7 1660.5,321.1 1663.2,330.0 1667.3,315.2 1670.7,310.4 1674.1,327.0 1676.8,350.7 1680.9,369.0 1684.3,338.8 1686.3,303.3 1688.0,267.8 1691.8,248.3 1695.9,267.8 1698.6,303.3 1701.3,338.8 1704.0,361.3 1709.5,358.9 1713.5,338.8 1715.2,291.5 1717.6,248.6 1721.7,261.9 1724.4,279.7 1726.5,327.0 1727.8,374.3 1728.5,382.6 1730.1,427.2 1732.3,394.4 1733.4,374.3 1734.6,303.3 1736.0,244.2 1738.7,153.1 1740.5,93.9 1742.1,72.4 1744.1,93.9 1745.5,141.3 1746.9,188.6 1748.2,232.4 1750.3,303.3 1752.3,362.5 1752.7,400.4 1754.8,453.6 1756.8,512.7 1757.7,556.5 1759.0,500.9 1760.4,441.8 1761.8,382.6 1762.9,376.7 1768.8,426.4 1771.0,382.6 1772.4,362.5 1774.0,303.3 1776.1,256.0 1777.4,208.7 1778.8,153.1 1780.1,90.7 1781.5,141.3 1783.5,200.4 1784.9,232.4 1787.6,267.8 1791.0,289.1 1793.1,293.9 1797.1,265.5 1801.9,256.0 1804.6,226.4 1806.0,153.1 1808.7,134.5 1812.1,141.3 1814.1,135.3 1818.9,112.6 1820.3,153.1 1821.6,200.4 1822.3,220.5 1823.7,267.8 1825.7,327.0 1827.8,374.3 1829.1,390.3 1832.5,350.7 1835.2,327.0 1838.0,291.5 1840.7,244.2 1842.7,208.7 1843.4,176.8 1844.8,139.2 1847.5,164.9 1850.9,200.4 1852.9,220.5 1855.6,267.8 1858.4,315.2 1861.1,350.7 1863.8,386.2 1865.9,406.3 1867.9,430.5 1869.9,406.3 1871.3,374.3 1873.3,338.8 1876.1,303.3 1878.8,282.0 1882.2,276.7 1886.3,274.9 1890.3,269.4 1893.7,291.5 1896.5,327.0 1898.5,362.5 1900.5,374.0 1904.6,338.8 1907.3,315.2 1910.1,297.4 1913.5,291.2 1916.9,315.2 1919.6,338.8 1922.3,356.6 1924.4,364.5 1927.8,341.2 1931.2,333.5 1934.6,356.6 1937.3,327.0 1940.0,291.5 1942.7,256.0 1946.8,243.6 1949.5,267.8 1952.2,291.5 1954.3,300.1 1957.7,279.7 1960.4,244.2 1963.1,208.7 1965.2,176.5 1968.6,208.7 1971.3,244.2 1973.3,279.7 1975.4,315.2 1977.4,350.7 1978.1,393.3 1980.8,362.5 1983.5,327.0 1986.3,291.5 1989.7,270.2 1989.6,266.3 1996.8,259.6 2002.7,272.5 2005.1,291.7 2008.7,274.6 2010.5,267.4 2014.7,285.0 2019.5,307.3 2026.1,284.1 2030.3,295.4 2033.9,316.2 2035.3,325.0 2039.9,312.7 2042.3,326.6 2044.7,347.5 2049.4,371.7 2053.0,337.1 2055.4,305.8 2057.8,285.0 2061.4,264.2 2067.4,252.8 2071.0,274.6 2073.4,295.4 2075.8,316.2 2078.2,338.5 2080.6,305.8 2082.4,274.6 2084.2,255.9 2087.8,249.2 2092.5,269.4 2097.9,283.5 2099.7,305.8 2100.9,326.6 2103.3,337.0 2106.9,316.2 2110.5,298.5 2115.3,291.7 2120.1,297.5 2124.9,297.1 2127.3,316.2 2129.1,337.1 2130.9,346.5 2135.6,326.6 2140.4,321.4 2144.0,295.4 2148.8,285.6 2153.6,295.4 2157.2,307.3 2163.2,299.6"/>
</g></g>
<defs><filter id="bw" x="-5%" y="-20%" width="110%" height="140%" color-interpolation-filters="sRGB"><feComponentTransfer><feFuncA type="discrete" tableValues="0 1"/></feComponentTransfer></filter></defs>
<g filter="url(#bw)">
<text class="tk" transform="translate(198.60 1350.36) scale(0.9500 1.0450)" text-anchor="end" letter-spacing="1.7">20</text>
<text class="tk" transform="translate(198.60 1030.87) scale(0.9500 1.0450)" text-anchor="end" letter-spacing="1.7">40</text>
<text class="tk" transform="translate(198.60 711.38) scale(0.9500 1.0450)" text-anchor="end" letter-spacing="1.7">60</text>
<text class="tk" transform="translate(198.60 391.89) scale(0.9500 1.0450)" text-anchor="end" letter-spacing="1.7">80</text>
<text class="tk" transform="translate(198.60 72.40) scale(0.9500 1.0450)" text-anchor="end" letter-spacing="1.7">100</text>
<text class="tk" transform="translate(628.00 1569.30) scale(0.9500 1.0450)" text-anchor="middle" letter-spacing="1.7">400</text>
<text class="tk" transform="translate(1139.60 1569.30) scale(0.9500 1.0450)" text-anchor="middle" letter-spacing="1.7">600</text>
<text class="tk" transform="translate(1651.20 1569.30) scale(0.9500 1.0450)" text-anchor="middle" letter-spacing="1.7">800</text>
<text class="tk" transform="translate(2162.80 1569.30) scale(0.9500 1.0450)" text-anchor="middle" letter-spacing="1.7">1000</text>
<text class="ti" transform="translate(1204.00 1642.50) scale(1.0000 1.0250)" text-anchor="middle">Wavelength (nm)</text>
<text class="ti" transform="translate(82.60 773.00) rotate(-90) scale(1.0000 1.0250)" text-anchor="middle">Transmittance (%)</text>
<line class="lg" stroke="#000000" x1="1692.3" y1="851.4" x2="1839.7" y2="851.4"/>
<text class="lgt" transform="translate(1875.20 879.70) scale(0.9500 1.0500)" text-anchor="start">1</text>
<line class="lg" stroke="#ff0000" x1="1692.3" y1="943.0" x2="1839.7" y2="943.0"/>
<text class="lgt" transform="translate(1875.20 971.30) scale(0.9500 1.0500)" text-anchor="start">3</text>
<line class="lg" stroke="#0000ff" x1="1692.3" y1="1034.0" x2="1839.7" y2="1034.0"/>
<text class="lgt" transform="translate(1875.20 1062.30) scale(0.9500 1.0500)" text-anchor="start">5</text>
<line class="lg" stroke="#ff00ff" x1="1692.3" y1="1124.5" x2="1839.7" y2="1124.5"/>
<text class="lgt" transform="translate(1875.20 1152.80) scale(0.9500 1.0500)" text-anchor="start">7</text>
<line class="lg" stroke="#008000" x1="1692.3" y1="1217.0" x2="1839.7" y2="1217.0"/>
<text class="lgt" transform="translate(1875.20 1245.30) scale(0.9500 1.0500)" text-anchor="start">9</text>
<text class="an" transform="translate(1167.30 1344.80) scale(1.0000 1.0450)" text-anchor="start">YVO<tspan font-size="44.5" dy="16">4</tspan><tspan dy="-16">:5%Eu</tspan><tspan font-size="44.5" dy="-27">3+</tspan><tspan dy="27">,5%Ba</tspan><tspan font-size="44.5" dy="-27">2+</tspan><tspan dy="27">,0.5%Bi</tspan><tspan font-size="44.5" dy="-27">3+</tspan></text>
</g>
</svg>
</body>
</html>
